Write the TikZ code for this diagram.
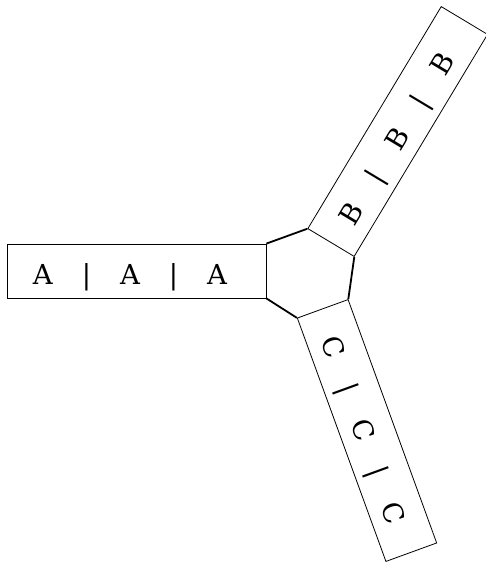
\documentclass[tikz,border=0pt]{standalone}
\usepackage{fontspec}
\setmainfont{DejaVu Serif}
\newcommand{\gp}{\hspace{29pt}}
\begin{document}
\begin{tikzpicture}[x=1pt,y=-1pt,
  arm/.style={draw,line width=0.8pt,rectangle,minimum width=259pt,minimum height=54pt,
    inner sep=0pt,text height=26pt,text depth=0pt,font=\fontsize{27.5}{33}\selectfont},
  hubline/.style={line width=1.8pt}]
\useasboundingbox (0,0) rectangle (486,563);
\clip (0,0) rectangle (486,563);
\node[arm] (A) at (136.5,271) {A\gp|\gp A\gp|\gp A\hspace*{13pt}};
\node[arm,rotate=59] (B) at (397.7,131.5) {B\gp|\gp B\gp|\gp B\hspace*{14pt}};
\node[arm,rotate=-70] (C) at (367,430.5) {C\gp|\gp C\gp|\gp C\hspace*{4pt}};
\draw[hubline] (A.north east) -- (B.north west);
\draw[hubline] (B.south west) -- (C.north west);
\draw[hubline] (C.south west) -- (A.south east);
\end{tikzpicture}
\end{document}
